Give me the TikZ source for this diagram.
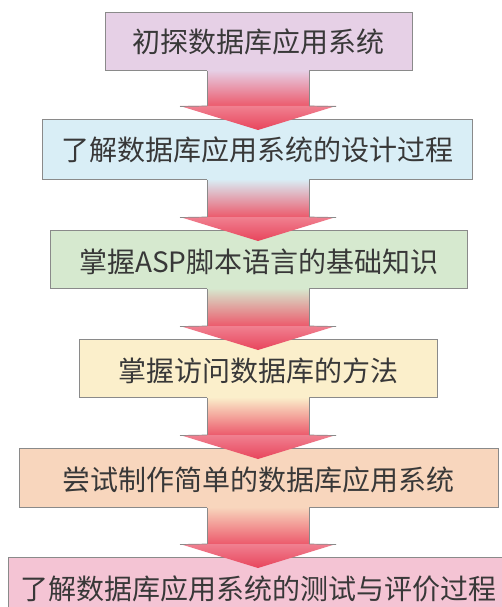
\documentclass[tikz,border=0pt]{standalone}
\usepackage{fontspec}
\newfontfamily\cjk{Noto Sans CJK SC}
\usetikzlibrary{calc}
\definecolor{cA}{HTML}{E6D0E6}
\definecolor{cB}{HTML}{D9EEF6}
\definecolor{cC}{HTML}{D6E9CF}
\definecolor{cD}{HTML}{FBEFCB}
\definecolor{cE}{HTML}{F8D6BD}
\definecolor{cF}{HTML}{F4C4D4}
\definecolor{arrred}{HTML}{EC5A6C}
\definecolor{headtop}{HTML}{F08090}
\definecolor{headbot}{HTML}{E8455C}
\definecolor{txt}{HTML}{383838}
\definecolor{edge}{HTML}{8A8A8A}
\tikzset{
  stepbox/.style={draw=edge, line width=0.9pt, inner sep=0pt, text=txt,
    font=\cjk\fontsize{28}{30}\selectfont, anchor=north west},
}
\newcommand\flowarr[3]{%
  \shade[top color=#3, bottom color=arrred, draw=none]
    ($(#1.south -| ax)+(-51,-0.8)$) rectangle ($(#2.north -| ax)+(51,-13)$);
  \draw[edge, line width=0.6pt]
    ($(#1.south -| ax)+(-51,0)$) -- ($(#2.north -| ax)+(-51,-13)$)
    ($(#1.south -| ax)+(51,0)$) -- ($(#2.north -| ax)+(51,-13)$);
  \shade[top color=headtop, bottom color=headbot, draw=none]
    ($(#2.north -| ax)+(-78,-13)$) -- ($(#2.north -| ax)+(78,-13)$)
    -- ($(#2.north -| ax)+(0,11)$) -- cycle;
  \draw[edge, line width=0.7pt]
    ($(#2.north -| ax)+(-78,-12.5)$) -- ($(#2.north -| ax)+(-51,-13)$)
    ($(#2.north -| ax)+(78,-12.5)$) -- ($(#2.north -| ax)+(51,-13)$);
}
\begin{document}
\begin{tikzpicture}[x=1pt, y=-1pt]
\useasboundingbox (0,0) rectangle (502,607);
\clip (0,0) rectangle (502,607);
\fill[white] (0,0) rectangle (502,607);
\coordinate (ax) at (258,0);
\node[stepbox, fill=cA, minimum width=307, minimum height=58] (b1) at (105,12) {};
\node[text=txt, font=\cjk\fontsize{28}{30}\selectfont] at (b1.center) {初探数据库应用系统};
\node[stepbox, fill=cB, minimum width=430, minimum height=60] (b2) at (42,119) {};
\node[text=txt, font=\cjk\fontsize{28}{30}\selectfont] at (b2.center) {了解数据库应用系统的设计过程};
\node[stepbox, fill=cC, minimum width=417, minimum height=58] (b3) at (50,230) {};
\node[text=txt, font=\cjk\fontsize{28}{30}\selectfont] at ($(b3.center)+(0,2)$) {掌握ASP脚本语言的基础知识};
\node[stepbox, fill=cD, minimum width=358, minimum height=58] (b4) at (79,339) {};
\node[text=txt, font=\cjk\fontsize{28}{30}\selectfont] at ($(b4.center)+(0,2)$) {掌握访问数据库的方法};
\node[stepbox, fill=cE, minimum width=479, minimum height=59] (b5) at (19,448) {};
\node[text=txt, font=\cjk\fontsize{28}{30}\selectfont] at ($(b5.center)+(0,2)$) {尝试制作简单的数据库应用系统};
\node[stepbox, fill=cF, minimum width=500, minimum height=60] (b6) at (8,557) {};
\node[text=txt, font=\cjk\fontsize{28}{30}\selectfont] at ($(b6.north)+(0,32)$) {了解数据库应用系统的测试与评价过程};
\flowarr{b1}{b2}{cA}
\flowarr{b2}{b3}{cB}
\flowarr{b3}{b4}{cC}
\flowarr{b4}{b5}{cD}
\flowarr{b5}{b6}{cE}
\end{tikzpicture}
\end{document}
